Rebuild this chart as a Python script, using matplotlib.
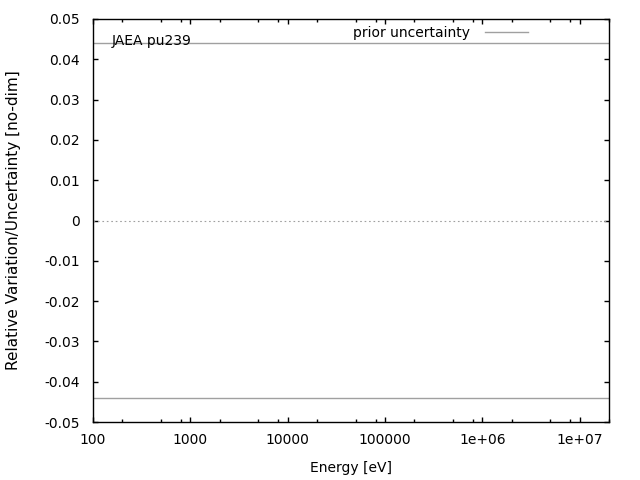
import matplotlib
matplotlib.use("Agg")
import matplotlib.pyplot as plt
from matplotlib.ticker import LogLocator, FixedLocator, NullFormatter

plt.rcParams.update({
    "font.family": "DejaVu Sans",
    "font.size": 10,
})

# data
energy = [100, 2e7]
prior_upper = [0.044, 0.044]
prior_lower = [-0.044, -0.044]
zero_line = [0.0, 0.0]
x_ticks = [100, 1000, 10000, 100000, 1e6, 1e7]
x_tick_labels = ["100", "1000", "10000", "100000", "1e+06", "1e+07"]
y_ticks = [-0.05, -0.04, -0.03, -0.02, -0.01, 0, 0.01, 0.02, 0.03, 0.04, 0.05]
y_tick_labels = ["-0.05", "-0.04", "-0.03", "-0.02", "-0.01", "0",
                 "0.01", "0.02", "0.03", "0.04", "0.05"]

grey = "#a0a0a0"

fig = plt.figure(figsize=(6.4, 4.8), dpi=100)
ax = fig.add_axes([93 / 640, 1 - 422 / 480, (609 - 93) / 640, (422 - 19) / 480])

ax.plot(energy, prior_upper, color=grey, lw=1.0, label="prior uncertainty")
ax.plot(energy, prior_lower, color=grey, lw=1.0)
ax.plot(energy, zero_line, color=grey, lw=0.8, linestyle=(0, (1.5, 2.5)))

ax.set_xscale("log")
ax.set_xlim(100, 2e7)
ax.set_ylim(-0.05, 0.05)

ax.xaxis.set_major_locator(FixedLocator(x_ticks))
ax.set_xticklabels(x_tick_labels)
ax.xaxis.set_minor_locator(LogLocator(base=10, subs=[2, 5, 8]))
ax.xaxis.set_minor_formatter(NullFormatter())
ax.set_yticks(y_ticks)
ax.set_yticklabels(y_tick_labels)

ax.tick_params(which="both", direction="in", top=True, right=True, color="black")
ax.tick_params(which="major", length=3.6, width=1)
ax.tick_params(axis="y", which="major", pad=9.5)
ax.tick_params(axis="x", which="major", pad=8)
ax.tick_params(which="minor", length=2.2, width=1)
for s in ax.spines.values():
    s.set_linewidth(1.0)

ax.set_xlabel("Energy [eV]", labelpad=10)
ax.set_ylabel("Relative Variation/Uncertainty [no-dim]", fontsize=11, va="center")
ax.yaxis.set_label_coords(-(93 - 14) / 516, 0.5)

ax.text(0.037, 0.945, "JAEA pu239", transform=ax.transAxes, ha="left", va="center")

ax.legend(loc="upper right", frameon=False, markerfirst=False,
          handlelength=3.1, handletextpad=1.08, borderpad=0, borderaxespad=0,
          bbox_to_anchor=(0.843, 0.983))

fig.savefig("out.png", dpi=100)
